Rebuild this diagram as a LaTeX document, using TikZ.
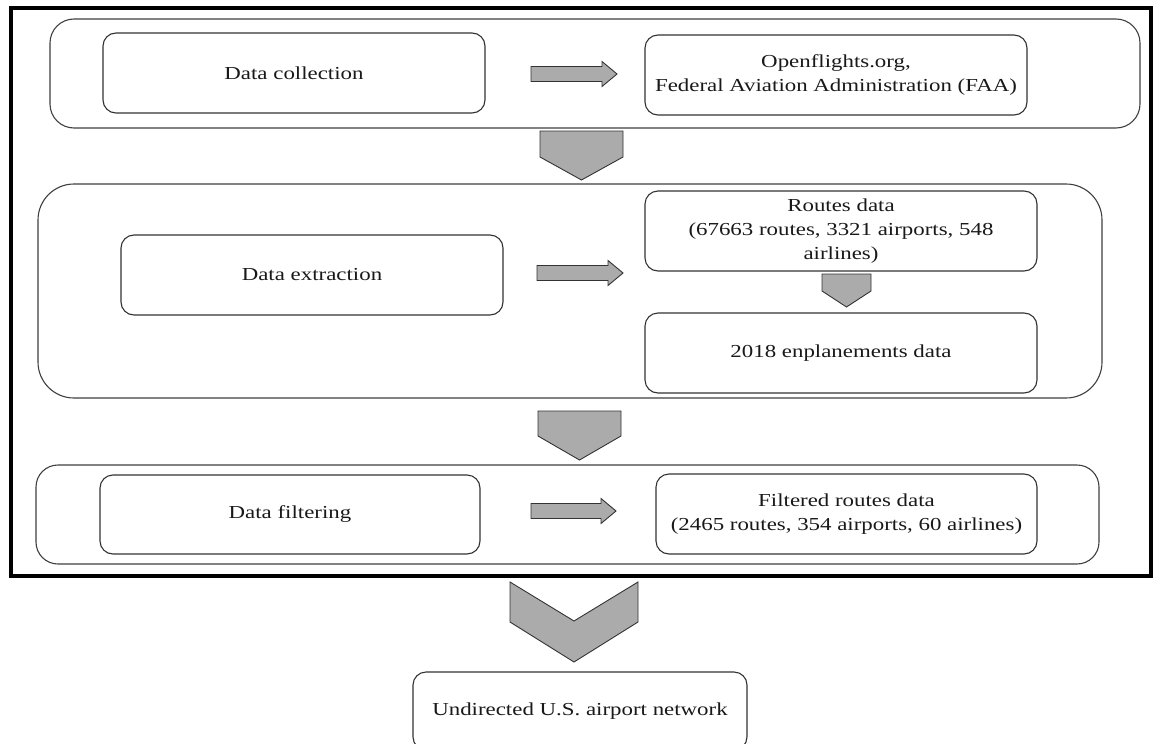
\documentclass[tikz,border=0pt]{standalone}
\usepackage{fontspec}
\setmainfont{Liberation Serif}[FakeStretch=1.25]
\begin{document}
\begin{tikzpicture}[x=1pt,y=-1pt,
  box/.style={draw=black!80, line width=1.1pt, rounded corners=13pt, align=center, inner sep=0pt,
    font=\fontsize{18.3}{24}\selectfont, text=black!90},
  panel/.style={draw=black!75, line width=1.1pt, inner sep=0pt},
  blk/.style={draw=black!80, fill=black!33, line width=0.9pt, line join=miter},
  frame/.style={draw=black, line width=3.5pt}]
\clip (0,0) rectangle (1154,744);
\useasboundingbox (0,0) rectangle (1154,744);
\fill[white] (0,0) rectangle (1154,744);
% outer frame
\draw[frame] (11,8) -- (1151,8) -- (1151,576) -- (11,576) -- cycle;
% panels
\node[panel, rounded corners=24pt, minimum width=1090pt, minimum height=109pt] (p1) at (595,73.5) {};
\node[panel, rounded corners=36pt, minimum width=1064pt, minimum height=214pt] (p2) at (570,291) {};
\node[panel, rounded corners=22pt, minimum width=1063pt, minimum height=99pt] (p3) at (567.5,514.5) {};
% boxes
\node[box, minimum width=382pt, minimum height=80pt] (collect) at (294,73) {Data collection};
\node[box, minimum width=382pt, minimum height=80pt] (openf) at (836,75) {Openflights.org,\\Federal Aviation Administration (FAA)};
\node[box, minimum width=382pt, minimum height=80pt] (extract) at (312,275) {Data extraction};
\node[box, minimum width=392pt, minimum height=80pt] (routes) at (841,231) {Routes data\\(67663 routes, 3321 airports, 548\\airlines)};
\node[box, minimum width=392pt, minimum height=80pt] (enpl) at (841,353) {2018 enplanements data};
\node[box, minimum width=380pt, minimum height=79pt] (filter) at (290,514.5) {Data filtering};
\node[box, minimum width=381pt, minimum height=80pt] (filtered) at (846.5,514) {Filtered routes data\\(2465 routes, 354 airports, 60 airlines)};
\node[box, minimum width=334pt, minimum height=78pt] (undir) at (580,711) {Undirected U.S. airport network};
% block arrows (right)
\newcommand\rarrow[3]{%
  \draw[blk] (#1,#3-7.5) -- ({#2-15},#3-7.5) -- ({#2-15},#3-12.5) -- (#2,#3) -- ({#2-15},#3+12.5) -- ({#2-15},#3+7.5) -- (#1,#3+7.5) -- cycle;}
\rarrow{531}{617}{74}
\rarrow{537}{623}{273}
\rarrow{531}{616}{511}
% pentagon arrows (down)
\newcommand\darrow[5]{%
  \draw[blk] (#1,#3) -- (#2,#3) -- (#2,#4) -- ({(#1+#2)/2},#5) -- (#1,#4) -- cycle;}
\darrow{540}{623}{131}{157}{180}
\darrow{822}{871}{274}{291}{307}
\darrow{538}{621}{411}{436}{460}
% chevron
\draw[blk] (510,582) -- (574,621) -- (638,582) -- (638,622) -- (574,662) -- (510,622) -- cycle;
\end{tikzpicture}
\end{document}
